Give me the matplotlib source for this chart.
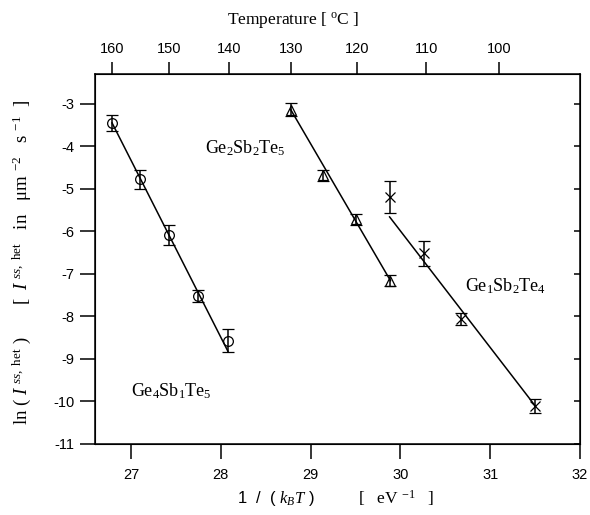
import numpy as np
import matplotlib
matplotlib.use("Agg")
import matplotlib.pyplot as plt

plt.rcParams['font.family'] = ['Liberation Sans', 'DejaVu Sans']
plt.rcParams['axes.unicode_minus'] = False
plt.rcParams['mathtext.fontset'] = 'custom'
plt.rcParams['mathtext.rm'] = 'Liberation Serif'
plt.rcParams['mathtext.it'] = 'Liberation Serif:italic'

# data: 1/(kB T) in eV^-1, ln(I) and error half-widths
ge4_x = [26.79, 27.10, 27.42, 27.75, 28.08]
ge4_y = [-3.45, -4.78, -6.09, -7.52, -8.57]
ge4_err = [0.18, 0.23, 0.23, 0.15, 0.27]
ge4_fit_x = [26.79, 28.08]
ge4_fit_y = [-3.45, -8.82]

ge2_x = [28.78, 29.14, 29.51, 29.89]
ge2_y = [-3.14, -4.68, -5.72, -7.16]
ge2_err = [0.15, 0.13, 0.12, 0.13]
ge2_fit_x = [28.78, 29.89]
ge2_fit_y = [-3.14, -7.16]

ge1_x = [29.88, 30.26, 30.67, 31.50]
ge1_y = [-5.19, -6.52, -8.06, -10.10]
ge1_err = [0.37, 0.29, 0.15, 0.16]
ge1_fit_x = [29.88, 31.50]
ge1_fit_y = [-5.66, -10.10]

temps_c = [160, 150, 140, 130, 120, 110, 100]
kB = 8.617e-5

serif = 'Liberation Serif'

fig = plt.figure(figsize=(5.9, 5.15), dpi=100)
ax = fig.add_axes([95 / 590, 1 - 444 / 515, 485 / 590, 370 / 515])

eb = dict(color='black', ecolor='black', elinewidth=1.1, capsize=4,
          capthick=1.1, linestyle='none', mfc='none', mec='black', mew=0.9)
ax.errorbar(ge4_x, ge4_y, yerr=ge4_err, marker='o', ms=7, **eb)
ax.errorbar(ge2_x, ge2_y, yerr=ge2_err, marker='^', ms=7, **eb)
ax.errorbar(ge1_x, ge1_y, yerr=ge1_err, marker='x', ms=7, **eb)

ax.plot(ge4_fit_x, ge4_fit_y, color='black', lw=1.1)
ax.plot(ge2_fit_x, ge2_fit_y, color='black', lw=1.1)
ax.plot(ge1_fit_x, ge1_fit_y, color='black', lw=1.1)

ax.set_xlim(26.6, 32)
ax.set_ylim(-11, -2.3)
ax.set_xticks([27, 28, 29, 30, 31, 32])
ax.set_yticks(np.arange(-11, -2, 1))
ax.tick_params(axis='both', labelsize=10.5, width=1.1)
ax.tick_params(axis='x', direction='out', length=11, pad=6)
ax.tick_params(axis='y', direction='out', length=11, pad=4)
ax.tick_params(axis='y', which='both', right=True, labelright=False)
for s in ax.spines.values():
    s.set_linewidth(1.1)

# right ticks point inward
for t in ax.yaxis.get_major_ticks():
    t.tick2line.set_marker(matplotlib.markers.TICKLEFT)
    t.tick2line.set_markersize(4)

# top axis in degrees Celsius
ax2 = ax.twiny()
ax2.set_xlim(ax.get_xlim())
ax2.set_xticks([1 / (kB * (t + 273.15)) for t in temps_c])
ax2.set_xticklabels([str(t) for t in temps_c])
ax2.tick_params(axis='x', direction='out', length=9, width=1.1,
                labelsize=10.5, pad=4)

ax.text(27.82, -4.05, r'Ge$_2$Sb$_2$Te$_5$', fontsize=13, family=serif,
        va='center')
ax.text(30.72, -7.30, r'Ge$_1$Sb$_2$Te$_4$', fontsize=13, family=serif,
        va='center')
ax.text(27.0, -9.75, r'Ge$_4$Sb$_1$Te$_5$', fontsize=13, family=serif,
        va='center')

fig.text(293 / 590, 1 - 20 / 515, r'Temperature [ $^{\rm o}$C ]',
         family=serif, fontsize=12.5, ha='center', va='center')
fig.text(276 / 590, 1 - 498 / 515, r'1  /  ( $k_BT$ )', fontsize=12,
         ha='center', va='center')
fig.text(396 / 590, 1 - 498 / 515, r'[   eV $^{-1}$   ]', family=serif,
         fontsize=12.5, ha='center', va='center')
fig.text(22 / 590, 1 - 262 / 515,
         r'ln ( $I$ $^{ss,\ \rm het}$ )       [  $I$ $^{ss,\ \rm het}$   in   $\rm\mu$m $^{-2}$   s $^{-1}$  ]',
         family=serif, fontsize=13.5, rotation=90, ha='center', va='center')

fig.savefig('out.png', dpi=100)
